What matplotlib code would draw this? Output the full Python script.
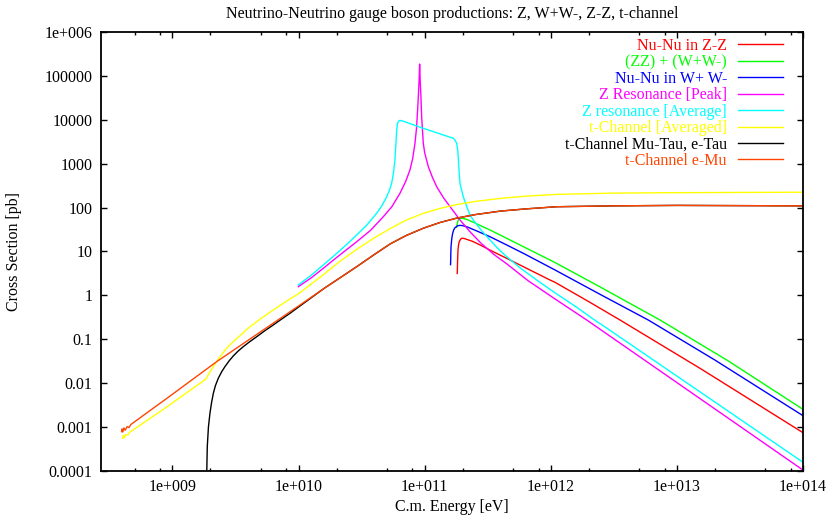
import matplotlib
matplotlib.use("Agg")
import matplotlib.pyplot as plt
from matplotlib.ticker import LogLocator, FixedLocator, FixedFormatter, NullFormatter, NullLocator

plt.rcParams['font.family'] = ['Liberation Serif', 'DejaVu Serif']

# c.m. energy [eV] and cross section [pb]
zz_e = [1.811e11, 1.816e11, 1.824e11, 1.837e11, 1.854e11, 1.879e11, 1.919e11, 1.963e11,
        2.018e11, 2.089e11, 2.399e11, 2.748e11, 3.467e11, 4.467e11, 6.607e11, 9.86e11,
        1.079e12, 1.995e12, 3.54e12, 1.585e13, 1e14]
zz_s = [3.16, 3.79, 6.31, 10.8, 13.8, 16.7, 18.8, 20.0,
        20.0, 19.5, 17.0, 14.1, 10.0, 7.0, 3.98, 2.24,
        1.99, 0.724, 0.275, 0.0204, 7.46e-4]

zzww_e = [1.795e11, 1.803e11, 1.820e11, 1.837e11, 1.862e11, 1.905e11, 1.995e11, 2.153e11,
          2.630e11, 3.296e11, 4.467e11, 6.053e11, 1.079e12, 2.512e12, 7.35e12, 2.512e13, 1e14]
zzww_s = [35.5, 39.8, 45.7, 50.1, 54.3, 57.0, 56.9, 54.1,
          41.7, 30.9, 20.0, 12.9, 5.62, 1.51, 0.275, 0.0332, 2.54e-3]

ww_e = [1.603e11, 1.607e11, 1.611e11, 1.618e11, 1.641e11, 1.667e11, 1.698e11, 1.738e11,
        1.820e11, 1.905e11, 1.995e11, 2.153e11, 2.630e11, 3.296e11, 4.467e11, 6.053e11,
        1.079e12, 2.512e12, 5.93e12, 1.995e13, 1e14]
ww_s = [5.01, 5.86, 8.91, 12.9, 20.0, 25.9, 30.9, 34.8,
        38.5, 39.4, 38.9, 36.7, 28.8, 21.7, 14.1, 9.1,
        3.80, 1.023, 0.275, 0.0339, 1.82e-3]

zpeak_e = [9.95e9, 1.259e10, 1.570e10, 1.995e10, 2.891e10, 3.715e10, 4.70e10, 5.495e10,
           6.37e10, 7.079e10, 7.64e10, 8.035e10, 8.375e10, 8.61e10, 8.79e10, 8.913e10,
           9.016e10, 9.12e10, 9.226e10, 9.333e10, 9.46e10, 9.75e10, 1.0e11, 1.069e11,
           1.148e11, 1.245e11, 1.413e11, 1.589e11, 1.905e11, 2.286e11, 2.818e11, 3.548e11,
           4.467e11, 6.64e11, 1.079e12, 1.928e12, 1e14]
zpeak_s = [1.58, 2.51, 4.14, 7.24, 16.7, 30.2, 62.1, 105,
           212, 398, 718, 1318, 2917, 6310, 16700, 35500,
           70800, 186000, 70800, 35500, 11750, 2917, 1778, 855,
           501, 299, 166, 105, 52.5, 28.2, 15.1, 8.51,
           5.25, 2.14, 0.832, 0.275, 1.05e-4]

zavg_e = [9.95e9, 1.259e10, 1.570e10, 1.995e10, 2.512e10, 2.891e10, 3.467e10, 4.159e10,
          4.571e10, 5.0e10, 5.248e10, 5.47e10, 5.65e10, 5.81e10, 5.90e10, 6.0e10,
          6.08e10, 6.18e10, 6.31e10, 6.58e10, 9.75e10, 1.687e11, 1.738e11, 1.795e11,
          1.828e11, 1.845e11, 1.871e11, 1.905e11, 1.963e11, 2.023e11, 2.138e11, 2.286e11,
          2.427e11, 2.818e11, 3.296e11, 3.802e11, 4.467e11, 5.754e11, 7.73e11, 1.079e12,
          1.585e12, 2.173e12, 2.858e12, 1e14]
zavg_s = [1.73, 2.88, 4.92, 8.91, 16.2, 23.8, 39.8, 74.1,
          110, 177, 245, 358, 603, 1213, 2512, 5860,
          7943, 9060, 9660, 9550, 6400, 3790, 3467, 2917,
          1995, 1445, 708, 358, 251, 177, 112, 67.8,
          52.2, 30.2, 18.3, 11.75, 7.62, 4.17, 2.24, 1.148,
          0.550, 0.288, 0.170, 1.58e-4]

tavg_e = [4.03e8, 4.07e8, 4.14e8, 4.27e8, 4.42e8, 4.57e8, 8.99e8, 1.845e9,
          1.995e9, 2.188e9, 2.382e9, 2.692e9, 3.034e9, 3.548e9, 4.12e9, 5.012e9,
          6.30e9, 7.943e9, 1.026e10, 1.570e10, 2.138e10, 2.891e10, 3.981e10, 5.309e10,
          7.079e10, 9.75e10, 1.321e11, 1.795e11, 2.512e11, 3.981e11, 6.31e11, 1.114e12,
          3.162e12, 1e13, 1e14]
tavg_s = [5.56e-4, 6.46e-4, 5.75e-4, 6.76e-4, 6.61e-4, 7.59e-4, 2.87e-3, 0.01247,
          0.0186, 0.0282, 0.0402, 0.0631, 0.0881, 0.1318, 0.1936, 0.295,
          0.4645, 0.724, 1.153, 2.95, 6.03, 11.2, 20.4, 33.1,
          51.3, 74.1, 95.5, 117.5, 138, 162, 182, 200,
          214, 219, 224]

mutau_e = [1.862e9, 1.871e9, 1.888e9, 1.928e9, 1.982e9, 2.042e9, 2.109e9, 2.188e9,
           2.307e9, 2.455e9, 2.606e9, 2.818e9, 3.034e9, 3.311e9, 3.64e9, 4.074e9,
           4.66e9, 5.37e9, 6.30e9, 7.413e9, 8.55e9, 1.026e10, 1.585e10, 2.891e10,
           3.981e10, 5.309e10, 7.079e10, 9.75e10, 1.321e11, 1.79e11, 2.512e11, 3.981e11,
           6.31e11, 1.114e12, 3.162e12, 1e13, 1e14]
mutau_s = [1e-5, 1e-4, 3.58e-4, 1e-3, 2.06e-3, 3.63e-3, 5.89e-3, 8.71e-3,
           0.0129, 0.0182, 0.0238, 0.0324, 0.0417, 0.0537, 0.0678, 0.0871,
           0.1148, 0.155, 0.212, 0.295, 0.391, 0.574, 1.429, 4.51,
           8.51, 14.8, 22.9, 33.9, 45.7, 57.5, 69.2, 83.2,
           93.3, 104.7, 109.6, 112.2, 109.6]

emu_e = [3.95e8, 3.98e8, 4.04e8, 4.12e8, 4.22e8, 4.37e8, 4.52e8, 4.68e8,
         8.99e8, 2.239e9, 1.026e10, 1.585e10, 2.891e10, 3.981e10, 5.309e10, 7.079e10,
         9.75e10, 1.321e11, 1.79e11, 2.512e11, 3.981e11, 6.31e11, 1.114e12, 3.162e12,
         1e13, 1e14]
emu_s = [7.85e-4, 9.12e-4, 7.76e-4, 9.55e-4, 8.51e-4, 1.023e-3, 9.77e-4, 1.148e-3,
         4.48e-3, 0.0309, 0.604, 1.429, 4.51, 8.51, 14.8, 22.9,
         33.9, 45.7, 57.5, 69.2, 83.2, 93.3, 104.7, 109.6,
         112.2, 109.6]

x_ticks = [1e9, 1e10, 1e11, 1e12, 1e13, 1e14]
x_tick_labels = ['1e+009', '1e+010', '1e+011', '1e+012', '1e+013', '1e+014']
y_ticks = [1e-4, 1e-3, 1e-2, 0.1, 1, 10, 100, 1000, 1e4, 1e5, 1e6]
y_tick_labels = ['0.0001', '0.001', '0.01', '0.1', '1', '10', '100', '1000',
                 '10000', '100000', '1e+006']

fs = 11.5

fig = plt.figure(figsize=(8.31, 5.22), dpi=100)
ax = fig.add_axes([0.1215, 0.0977, 0.8448, 0.8410])

# same order as the gnuplot file
ax.plot(zz_e, zz_s, color='#ff0000', lw=1.0, label='Nu-Nu in Z-Z')
ax.plot(zzww_e, zzww_s, color='#00ff00', lw=1.0, label='(ZZ) + (W+W-)')
ax.plot(ww_e, ww_s, color='#0000ff', lw=1.0, label='Nu-Nu in W+ W-')
ax.plot(zpeak_e, zpeak_s, color='#ff00ff', lw=1.0, label='Z Resonance [Peak]')
ax.plot(zavg_e, zavg_s, color='#00ffff', lw=1.0, label='Z resonance [Average]')
ax.plot(tavg_e, tavg_s, color='#ffff00', lw=1.0, label='t-Channel [Averaged]')
ax.plot(mutau_e, mutau_s, color='#000000', lw=1.0, label='t-Channel Mu-Tau, e-Tau')
ax.plot(emu_e, emu_s, color='#ff4500', lw=1.0, label='t-Channel e-Mu')

ax.set_xscale('log')
ax.set_yscale('log')
ax.set_xlim(2.71e8, 1e14)
ax.set_ylim(1e-4, 1e6)

ax.xaxis.set_major_locator(FixedLocator(x_ticks))
ax.xaxis.set_major_formatter(FixedFormatter(x_tick_labels))
ax.xaxis.set_minor_locator(LogLocator(base=10, subs=[2, 5, 8], numticks=50))
ax.xaxis.set_minor_formatter(NullFormatter())
ax.yaxis.set_major_locator(FixedLocator(y_ticks))
ax.yaxis.set_major_formatter(FixedFormatter(y_tick_labels))
ax.yaxis.set_minor_locator(NullLocator())

ax.tick_params(which='both', direction='in', top=True, right=True, labelsize=fs, width=1.0)
ax.tick_params(which='major', length=4.5, pad=6)
ax.tick_params(which='minor', length=2.2)
for sp in ax.spines.values():
    sp.set_linewidth(1.3)

ax.set_title('Neutrino-Neutrino gauge boson productions: Z, W+W-, Z-Z, t-channel',
             fontsize=fs, pad=10.4)
ax.set_xlabel('C.m. Energy [eV]', fontsize=fs)
ax.set_ylabel('Cross Section [pb]', fontsize=fs)
ax.xaxis.set_label_coords(0.5, -0.064)
ax.yaxis.set_label_coords(-0.1125, 0.5)

ax.legend(loc='upper right', bbox_to_anchor=(0.971, 0.987), markerfirst=False,
          frameon=False, labelcolor='linecolor', fontsize=fs, handlelength=2.8,
          handletextpad=0.69, labelspacing=0.03, borderpad=0, borderaxespad=0)

fig.savefig('out.png', dpi=100)
